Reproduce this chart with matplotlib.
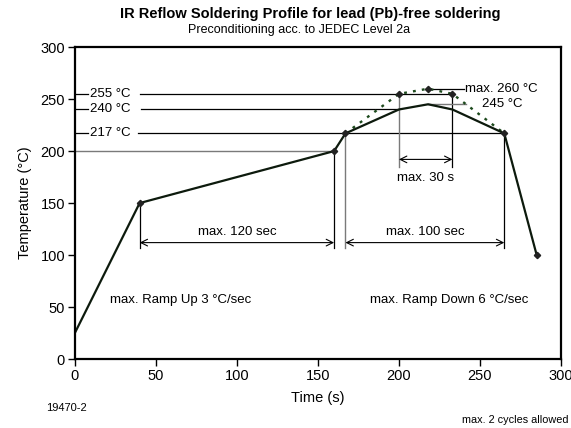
import matplotlib
matplotlib.use("Agg")
import matplotlib.pyplot as plt

plt.rcParams["font.family"] = ["Liberation Sans", "DejaVu Sans"]

# solid profile (minimum) and dotted profile (maximum)
time_solid = [0, 40, 160, 167, 200, 218, 233, 265, 285]
temp_solid = [25, 150, 200, 217, 240, 245, 240, 217, 100]
time_dot = [167, 200, 218, 233, 265]
temp_dot = [217, 255, 260, 255, 217]

# marked corner points
mark_t = [40, 160, 167, 265, 285]
mark_T = [150, 200, 217, 217, 100]
peak_t = [200, 218, 233]
peak_T = [255, 260, 255]

levels = [255, 240, 217]
level_ends = [233, 200, 265]
level_starts = [40, 41, 39]

fig = plt.figure(figsize=(5.71, 4.28), dpi=100)
ax = fig.add_axes([0.131, 0.161, 0.8515, 0.729])

ink = "#0d1a0d"
grey = "#7a7a7a"
fs = 9.5

# reference lines
ax.plot([0, 160], [200, 200], color=grey, lw=1)
for lev, t0, t1 in zip(levels, level_starts, level_ends):
    ax.plot([0, 8], [lev, lev], color="k", lw=0.9)
    ax.plot([t0, t1], [lev, lev], color="k", lw=0.9)
    ax.text(9.5, lev, f"{lev} °C", fontsize=fs, va="center", ha="left")

# verticals for time windows
ax.plot([40, 40], [150, 107], color="k", lw=0.9)
ax.plot([160, 160], [200, 107], color="k", lw=0.9)
ax.plot([167, 167], [217, 107], color=grey, lw=1)
ax.plot([265, 265], [217, 107], color="k", lw=0.9)
ax.plot([200, 200], [255, 185], color=grey, lw=1)
ax.plot([233, 233], [255, 185], color="k", lw=0.9)

arrow = dict(arrowstyle="<->", lw=0.8, color="k", shrinkA=0, shrinkB=0,
             mutation_scale=12)
ax.annotate("", xy=(40, 112), xytext=(160, 112), arrowprops=arrow)
ax.annotate("", xy=(167, 112), xytext=(265, 112), arrowprops=arrow)
ax.annotate("", xy=(200, 192), xytext=(233, 192), arrowprops=arrow)
ax.text(100, 116, "max. 120 sec", fontsize=fs, ha="center", va="bottom")
ax.text(216, 116, "max. 100 sec", fontsize=fs, ha="center", va="bottom")
ax.text(216.5, 174, "max. 30 s", fontsize=fs, ha="center", va="center")

# peak leaders
ax.plot([218, 240], [260, 260], color="k", lw=0.9)
ax.text(241, 260, "max. 260 °C", fontsize=fs, ha="left", va="center")
ax.plot([218, 241.5], [245, 245], color=grey, lw=1)
ax.text(251.5, 245, "245 °C", fontsize=fs, ha="left", va="center")

# profiles
ax.plot(time_dot, temp_dot, color="#1d4a1d", lw=1.7, ls=(0, (1.2, 2.6)))
ax.plot(time_solid, temp_solid, color=ink, lw=1.6)
ax.plot(mark_t, mark_T, ls="none", marker="D", ms=3.2, color="#222222")
ax.plot(peak_t, peak_T, ls="none", marker="D", ms=3.2, color="#222222")

ax.text(22, 57, "max. Ramp Up 3 °C/sec", fontsize=fs, ha="left", va="center")
ax.text(182, 57, "max. Ramp Down 6 °C/sec", fontsize=fs, ha="left", va="center")

ax.set_xlim(0, 300)
ax.set_ylim(0, 300)
ax.set_xticks(range(0, 301, 50))
ax.set_yticks(range(0, 301, 50))
ax.tick_params(direction="out", length=5, width=1, labelsize=10.5, pad=2)
for s in ax.spines.values():
    s.set_linewidth(1.6)
ax.set_xlabel("Time (s)", fontsize=10.5, labelpad=6)
ax.set_ylabel("Temperature (°C)", fontsize=10.5, labelpad=6)

fig.text(0.543, 0.967, "IR Reflow Soldering Profile for lead (Pb)-free soldering",
         fontsize=10.5, fontweight="bold", ha="center", va="center")
fig.text(0.524, 0.93, "Preconditioning acc. to JEDEC Level 2a",
         fontsize=9, ha="center", va="center")
fig.text(0.08, 0.047, "19470-2", fontsize=8, ha="left", va="center")
fig.text(0.995, 0.018, "max. 2 cycles allowed", fontsize=7.8, ha="right", va="center")

fig.savefig("out.png", dpi=100)
